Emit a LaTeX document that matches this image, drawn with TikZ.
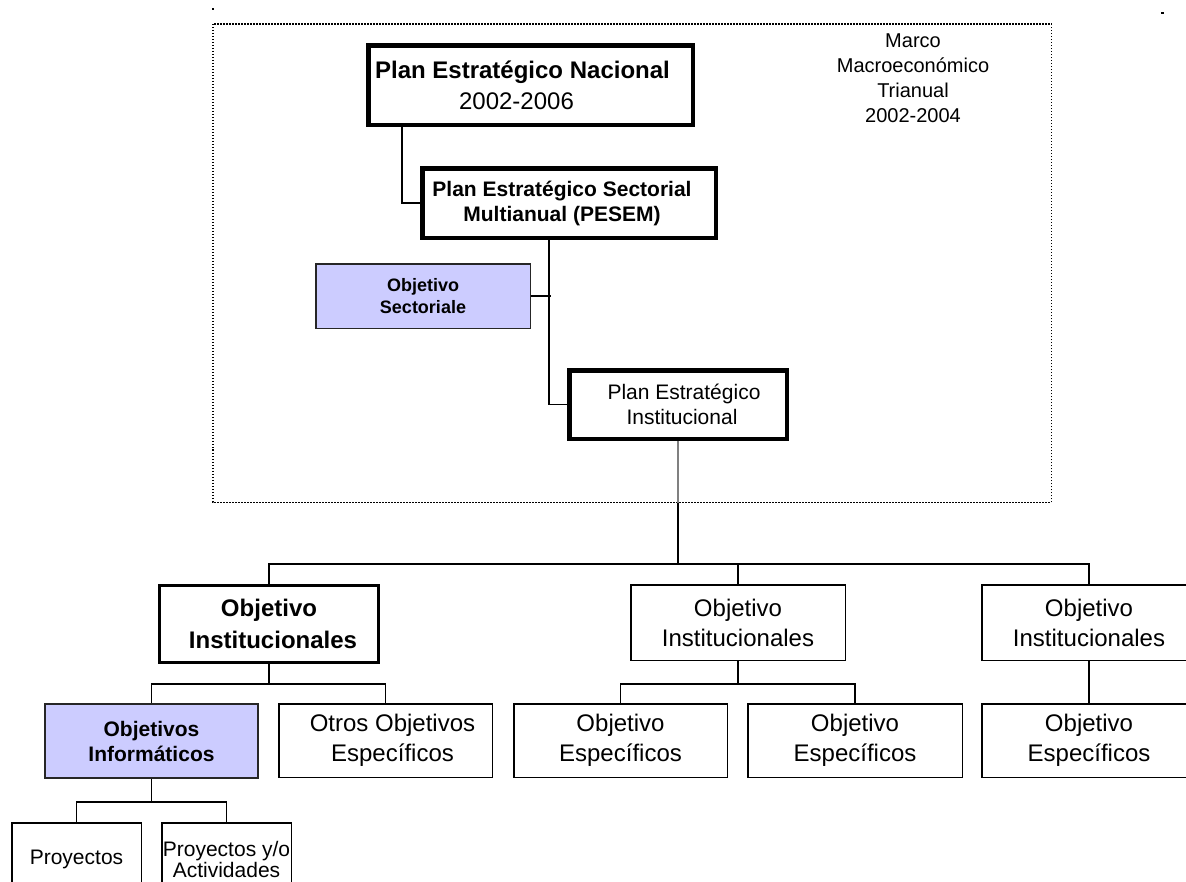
\documentclass[tikz,border=0pt]{standalone}
\usepackage{fontspec}
\setmainfont{Liberation Sans}
\usetikzlibrary{calc}
\definecolor{lav}{HTML}{CCCCFF}
\tikzset{
  thickbox/.style={draw=black, line width=4.5pt, fill=white, align=center, inner sep=0pt},
  midbox/.style={draw=black, line width=3pt, fill=white, align=center, inner sep=0pt},
  thinbox/.style={draw=black, line width=1.5pt, fill=white, align=center, inner sep=0pt},
  lavbox/.style={draw=black!85, line width=1.5pt, fill=lav, align=center, inner sep=0pt},
  conn/.style={draw=black, line width=1.3pt},
  fA/.style={font=\fontsize{24}{30}\selectfont},
  fAb/.style={font=\fontsize{24}{32}\selectfont\bfseries},
  fB/.style={font=\fontsize{21}{25}\selectfont},
  fBb/.style={font=\fontsize{21}{25}\selectfont\bfseries},
  fC/.style={font=\fontsize{18}{22}\selectfont\bfseries},
  fD/.style={font=\fontsize{20}{25}\selectfont},
}
\begin{document}
\begin{tikzpicture}[x=1pt, y=-1pt]
\clip (0,0) rectangle (1186,881);
\useasboundingbox (0,0) rectangle (1186,881);
\fill[white] (0,0) rectangle (1186,881);

% dotted frame
\draw[line width=1.5pt, dash pattern=on 1.5pt off 1.5pt] (212.75,23.75) rectangle (1051.25,502.25);
% small marks
\fill (212,8) rectangle (214,10);
\fill (1161,12) rectangle (1164,14);
\fill (212,449) rectangle (214,451);

% Marco text
\node[fD, align=center, inner sep=0pt] (marco) at (913,78) {Marco\\Macroeconómico\\Trianual\\2002-2004};

% top chain
\node[thickbox, fA, minimum width=324.5pt, minimum height=79.5pt] (nac) at (530.5,85)
  {\textbf{Plan Estratégico Nacional}\hspace*{16pt}\\[1pt]2002-2006\hspace*{28pt}};
\node[thickbox, fBb, minimum width=293.5pt, minimum height=69.5pt] (pesem) at (569,203)
  {Plan Estratégico Sectorial\hspace*{14pt}\\Multianual (PESEM)\hspace*{14pt}};
\node[lavbox, fC, minimum width=214.5pt, minimum height=64.5pt] (sect) at (423,296)
  {Objetivo\\Sectoriale};
\node[thickbox, fB, minimum width=217.5pt, minimum height=68.5pt] (pei) at (678,404.5)
  {\hspace*{12pt}Plan Estratégico\\\hspace*{8pt}Institucional};

% level 2
\node[midbox, fAb, minimum width=219pt, minimum height=77pt] (oi1) at (269,624)
  {Objetivo\\\hspace*{8pt}Institucionales};
\node[thinbox, fA, minimum width=214.5pt, minimum height=75.5pt] (oi2) at (738,622.5)
  {Objetivo\\Institucionales};
\node[thinbox, fA, minimum width=214.5pt, minimum height=75.5pt] (oi3) at (1089,622.5)
  {Objetivo\\Institucionales};

% level 3
\node[lavbox, fBb, line width=2pt, minimum width=213pt, minimum height=74pt] (pur) at (151.5,741)
  {Objetivos\\Informáticos};
\node[thinbox, fA, minimum width=213.5pt, minimum height=73.5pt] (otros) at (385.5,740.5)
  {\hspace*{14pt}Otros Objetivos\\\hspace*{14pt}Específicos};
\node[thinbox, fA, minimum width=213.5pt, minimum height=73.5pt] (oe1) at (620.5,740.5)
  {Objetivo\\Específicos};
\node[thinbox, fA, minimum width=214.5pt, minimum height=73.5pt] (oe2) at (855,740.5)
  {Objetivo\\Específicos};
\node[thinbox, fA, minimum width=214.5pt, minimum height=73.5pt] (oe3) at (1089,740.5)
  {Objetivo\\Específicos};

% level 4
\node[thinbox, fB, minimum width=129.5pt, minimum height=73.5pt] (proy1) at (76.5,859.5)
  {Proyectos};
\node[thinbox, font=\fontsize{21}{21}\selectfont, minimum width=129.5pt, minimum height=73.5pt] (proy2) at (226.5,859.5)
  {Proyectos y/o\\Actividades};

% junction coordinates
\coordinate (j0) at (402,203);
\coordinate (j1) at (549,296);
\coordinate (fb) at (678,503);
\coordinate (bus) at (678,564);
\coordinate (s1) at (269,684);
\coordinate (s2) at (738,684);
\coordinate (s3) at (151.5,802);

% connectors
\draw[conn] (nac.south -| j0) |- (pesem.west);
\draw[conn] (pesem.south -| j1) |- (pei.west);
\draw[conn] (sect.east) -- ([xshift=2pt]j1);
\draw[conn, draw=black!50] (pei.south) -- (fb);
\draw[conn] (fb) -- (bus);
\draw[conn] (oi1.north) |- (bus) -| (oi3.north);
\draw[conn] (bus -| oi2.north) -- (oi2.north);
\draw[conn] (oi1.south) -- (s1);
\draw[conn] (pur.north) |- (s1) -| (otros.north);
\draw[conn] (oi2.south) -- (s2);
\draw[conn] (oe1.north) |- (s2) -| (oe2.north);
\draw[conn] (oi3.south) -- (oe3.north);
\draw[conn] (pur.south) -- (s3);
\draw[conn] (proy1.north) |- (s3) -| (proy2.north);
\end{tikzpicture}
\end{document}
